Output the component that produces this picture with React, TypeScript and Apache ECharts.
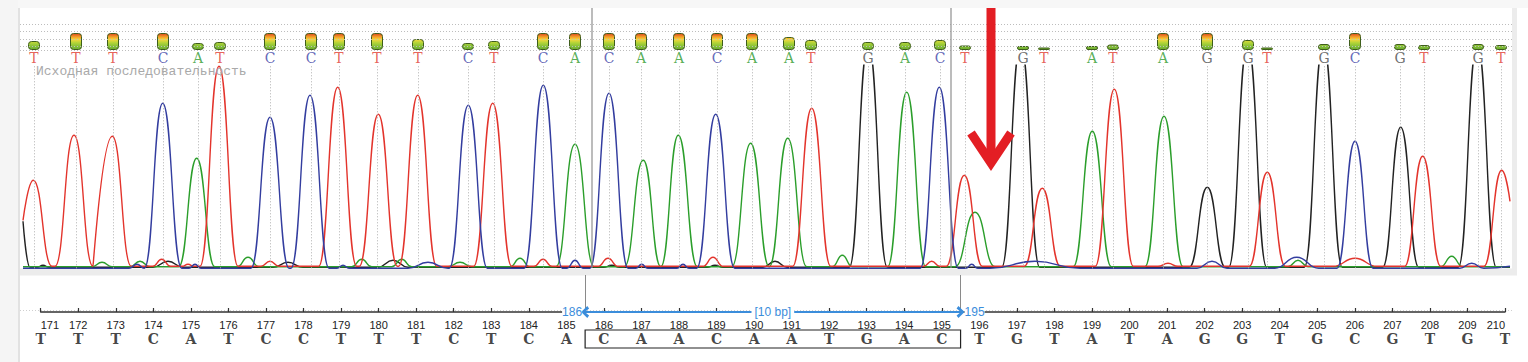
import { useEffect, useRef } from "react";
import * as echarts from "echarts";

// ---- base calls (top row) ----
const calledBases = ["T","T","T","C","A","T","C","C","T","T","T","C","T","C","A","C","A","A","C","A","A","T","G","A","C","T","G","T","A","T","A","G","G","T","G","C","G","T","G","T"];
const callPositions = [14, 56, 93, 143, 178, 200, 250, 291, 319, 357, 398, 448, 474, 523, 555, 589, 621, 659, 697, 732, 769, 791, 848, 885, 920, 945, 1003, 1024, 1072, 1093, 1143, 1187, 1228, 1247, 1304, 1335, 1380, 1404, 1458, 1481];
const callQuality = [18, 34, 34, 34, 14, 16, 34, 34, 34, 34, 22, 14, 18, 34, 34, 34, 34, 34, 34, 34, 26, 20, 16, 16, 20, 9, 8, 5, 8, 11, 34, 34, 20, 5, 12, 34, 12, 10, 12, 10];
const qualityGuides = [0, 7, 22, 37, 52];

// ---- reference sequence (ruler) ----
const rulerStart = 171;
const rulerEnd = 210;
const referenceBases = ["T","T","T","C","A","T","C","C","T","T","T","C","T","C","A","C","A","A","C","A","A","T","G","A","C","T","G","T","A","T","A","G","G","T","G","C","G","T","G","T"];
const selectionStart = 186;
const selectionEnd = 195;

// ---- trace peaks: [scan position, intensity, half width] (half width 0 = plain point) ----
const peaksT = [[3,48,0],[13.3,88,0],[32,0,0],[54,133,19],[92.3,132,19],[141.7,9,9],[168,4,6],[199,202,19],[250,7,9],[317.7,181,19],[358.3,154,19],[397.7,173,19],[472.7,165,19],[523,9,9],[588,10,10],[693,11,10],[791.7,160,19],[911.7,7,8],[944.3,93,18],[1022.3,80,18],[1094.3,179,19],[1148,5,10],[1247.3,96,18],[1335,10,22],[1402.7,112,18],[1464,0,0],[1481.7,98,0],[1490,67,0]];
const peaksC = [[3,0,0],[117,4,8],[142.7,165,19],[175,4,6],[250,151,19],[290,173,19],[323,3,6],[408,6,20],[448.3,163,19],[523.3,183,19],[555,8,8],[589,175,19],[621.7,4,6],[663,4,6],[695.7,154,19],[919.3,181,19],[951.7,4,6],[1015,7,45],[1192,7,15],[1276.7,11,22],[1335,127,18],[1451.7,5,12],[1490,2,0]];
const peaksA = [[3,0,0],[82,6,10],[120,7,10],[176.7,110,18],[228,11,11],[341.7,9,10],[381.7,9,10],[440,6,12],[500,10,10],[555,124,19],[623.3,108,19],[658.3,133,19],[730.7,125,19],[767.7,130,19],[822.3,13,10],[886.7,176,19],[955,56,20],[1072.3,137,19],[1144,152,19],[1278,8,10],[1431.7,12,11],[1490,0,0]];
const peaksG = [[3,47,0],[10,0,0],[23,3,6],[148,7,15],[268,6,15],[373,8,15],[591.7,3,8],[695,3,8],[755,7,12],[848.3,225,19],[1000.7,225,19],[1187.3,81,18],[1227.7,225,19],[1303.3,225,19],[1380.7,141,18],[1457.3,225,19],[1490,0,0]];
const channelBaseline: Record<string, number> = { C: 0, G: 1, A: 1.5, T: 2 };

const traceRegionBounds = [572, 931];
const arrowAt = 971;
const annotationText = "Исходная последовательность";

const channelColors: Record<string, string> = { A: "#2b9e2b", C: "#333d9f", G: "#222222", T: "#e3342c" };
const letterColors: Record<string, string> = { A: "#2e9a2e", C: "#3b40a6", G: "#4a4a4a", T: "#e03a2f" };
const selColor = "#3b8ddb";

function buildTrace(peaks: number[][], base: number) {
  const pts: number[][] = [];
  for (const [x, h, w] of peaks) {
    if (w > 0) {
      const lb = x - w;
      if (pts.length && pts[pts.length - 1][0] > lb && pts[pts.length - 1][1] === base) {
        const last = pts.pop()!;
        pts.push([(last[0] + lb) / 2, base]);
      } else {
        pts.push([lb, base]);
      }
      pts.push([x, h]);
      pts.push([x + w, base]);
    } else {
      pts.push([x, h === 0 ? base : h]);
    }
  }
  return pts;
}

export default function App() {
  const ref = useRef<HTMLDivElement>(null);
  useEffect(() => {
    const chart = echarts.init(ref.current!, undefined, { renderer: "svg" });
    const lineSeries = (name: string, peaks: number[][]) => ({
      type: "line",
      name,
      xAxisIndex: 0,
      yAxisIndex: 0,
      data: buildTrace(peaks, channelBaseline[name]),
      showSymbol: false,
      symbol: "none",
      smooth: 0.5,
      smoothMonotone: "x",
      clip: true,
      silent: true,
      z: 3,
      lineStyle: { color: channelColors[name], width: 1.4 },
    });
    const chevron = "path://M0,10 L10,0 L20,10 L16,13 L10,6 L4,13 Z";
    const option: any = {
      animation: false,
      backgroundColor: "#ffffff",
      grid: [
        { left: 20, right: 16, top: 65.3, bottom: 93.7 },
        { left: 20, right: 16, top: 24, bottom: 312 },
        { left: 40.7, right: 23, top: 275, bottom: 50 },
        { left: 40.7, right: 23, top: 330, bottom: 14 },
      ],
      xAxis: [
        { gridIndex: 0, type: "value", min: 0, max: 1492, show: false },
        { gridIndex: 1, type: "value", min: 0, max: 1492, show: false },
        {
          gridIndex: 2, type: "value", min: rulerStart, max: rulerEnd, interval: 1,
          axisLine: { show: true, lineStyle: { color: "#333", width: 1.5 } },
          axisTick: { show: true, inside: true, length: 4, lineStyle: { color: "#333", width: 1.2 } },
          axisLabel: { fontSize: 11, color: "#222", fontFamily: "Liberation Sans", margin: 7, alignMinLabel: "left", alignMaxLabel: "right", showMinLabel: true, showMaxLabel: true },
          splitLine: { show: false },
        },
        { gridIndex: 3, type: "value", min: rulerStart, max: rulerEnd, show: false },
      ],
      yAxis: [
        { gridIndex: 0, type: "value", min: 0, max: 203, show: false },
        { gridIndex: 1, type: "value", min: 0, max: 52, show: false },
        { gridIndex: 2, type: "value", min: 0, max: 1, show: false },
        { gridIndex: 3, type: "value", min: 0, max: 1, show: false },
      ],
      series: [
        {
          type: "scatter", xAxisIndex: 0, yAxisIndex: 0, silent: true, z: 1,
          data: callPositions.map((x) => [x, 0]), symbolSize: 0,
          markLine: {
            silent: true, symbol: "none", label: { show: false },
            lineStyle: { type: [1, 2], color: "#b0b0b0", width: 1 },
            data: callPositions.map((x) => ({ xAxis: x })),
          },
        },
        lineSeries("G", peaksG),
        lineSeries("A", peaksA),
        lineSeries("T", peaksT),
        lineSeries("C", peaksC),
        {
          type: "bar", xAxisIndex: 1, yAxisIndex: 1, silent: true, barWidth: 12,
          data: callPositions.map((x, i) => [x, callQuality[i]]),
          itemStyle: {
            borderRadius: 3, borderColor: "#3f5e1c", borderWidth: 1,
            color: {
              type: "linear", x: 0, y: 33, x2: 0, y2: 50, global: true,
              colorStops: [
                { offset: 0, color: "#d8361d" },
                { offset: 0.18, color: "#f08a24" },
                { offset: 0.38, color: "#f5d63c" },
                { offset: 0.58, color: "#b2d437" },
                { offset: 0.78, color: "#86c13a" },
                { offset: 1, color: "#69a92b" },
              ],
            },
          },
          markLine: {
            silent: true, symbol: "none", label: { show: false },
            lineStyle: { type: [1, 2], color: "#bdbdbd", width: 1 },
            data: qualityGuides.map((v) => ({ yAxis: v })),
          },
          z: 3,
        },
        {
          type: "scatter", xAxisIndex: 1, yAxisIndex: 1, silent: true, symbolSize: 1,
          itemStyle: { color: "transparent" },
          data: callPositions.map((x, i) => ({
            value: [x, 0],
            label: { color: letterColors[calledBases[i]] },
          })),
          label: {
            show: true, position: "bottom", distance: 1,
            formatter: (p: any) => calledBases[p.dataIndex],
            fontFamily: "DejaVu Serif", fontSize: 14, lineHeight: 12,
          },
          z: 4,
        },
        {
          type: "scatter", xAxisIndex: 2, yAxisIndex: 2, silent: true, symbolSize: 0,
          data: [],
          markLine: {
            silent: true, symbol: "none", label: { show: false },
            lineStyle: { type: "solid", color: "#8a8a8a", width: 1 },
            data: [{ xAxis: selectionStart - 0.5 }, { xAxis: selectionEnd + 0.5 }],
          },
        },
        {
          type: "scatter", xAxisIndex: 2, yAxisIndex: 2, silent: true, symbolSize: 0,
          data: [],
          markLine: {
            silent: true, symbol: [chevron, chevron], symbolSize: [12, 8],
            lineStyle: { type: "solid", color: selColor, width: 2 },
            label: { show: false },
            data: [[{ coord: [selectionStart - 0.5, 0] }, { coord: [selectionEnd + 0.5, 0] }]],
          },
          z: 5,
        },
        {
          type: "scatter", xAxisIndex: 3, yAxisIndex: 3, silent: true, symbolSize: 1,
          itemStyle: { color: "transparent" },
          data: referenceBases.map((b, i) => [rulerStart + i, 0.5]),
          label: {
            show: true, position: "inside",
            formatter: (p: any) => referenceBases[p.dataIndex],
            fontFamily: "DejaVu Serif", fontWeight: "bold", fontSize: 14, color: "#151515",
          },
          markArea: {
            silent: true,
            itemStyle: { color: "rgba(0,0,0,0)", borderColor: "#222", borderWidth: 1.2 },
            data: [[{ coord: [selectionStart - 0.5, 0] }, { coord: [selectionEnd + 0.5, 1] }]],
          },
        },
      ],
    };
    chart.setOption(option);
    const bx = traceRegionBounds.map((v) => chart.convertToPixel({ xAxisIndex: 0 } as any, v) as number);
    const ax = chart.convertToPixel({ xAxisIndex: 0 } as any, arrowAt) as number;
    const sL = chart.convertToPixel({ xAxisIndex: 2 } as any, selectionStart - 0.5) as number;
    const sR = chart.convertToPixel({ xAxisIndex: 2 } as any, selectionEnd + 0.5) as number;
    const sY = chart.convertToPixel({ yAxisIndex: 2 } as any, 0) as number;
    const selFont = '12px "Liberation Sans"';
    chart.setOption({
      graphic: [
        { type: "rect", z: -10, silent: true, shape: { x: 0, y: 0, width: 1528, height: 8 }, style: { fill: "#f7f7f7" } },
        { type: "rect", z: -10, silent: true, shape: { x: 0, y: 0, width: 18, height: 362 }, style: { fill: "#f5f5f5" } },
        { type: "rect", z: -9, silent: true, shape: { x: 18, y: 8, width: 2, height: 354 }, style: { fill: "#e2e2e2" } },
        { type: "rect", z: -9, silent: true, shape: { x: 20, y: 268.5, width: 1497, height: 7 }, style: { fill: "#ececec" } },
        { type: "rect", z: -9, silent: true, shape: { x: 1512, y: 8, width: 5, height: 267 }, style: { fill: "#ececec" } },
        { type: "line", z: -5, silent: true, shape: { x1: 20, y1: 310.5, x2: 1512, y2: 310.5 }, style: { stroke: "#cfcfcf", lineWidth: 1, lineDash: [1, 2] } },
        ...bx.map((x) => ({ type: "line", z: 10, silent: true, shape: { x1: x, y1: 8, x2: x, y2: 268 }, style: { stroke: "#8f8f8f", lineWidth: 1.2 } })),
        { type: "text", z: 10, silent: true, x: 36, y: 71, style: { text: annotationText, font: '13px "Liberation Mono"', lineHeight: 11, fill: "#a9a9a9", verticalAlign: "middle" } },
        { type: "text", z: 30, silent: true, x: sL - 3, y: sY, style: { text: String(selectionStart), font: selFont, fill: selColor, align: "right", verticalAlign: "middle", backgroundColor: "#fff" } },
        { type: "text", z: 30, silent: true, x: sR + 4, y: sY, style: { text: String(selectionEnd), font: selFont, fill: selColor, align: "left", verticalAlign: "middle", backgroundColor: "#fff" } },
        { type: "text", z: 30, silent: true, x: (sL + sR) / 2, y: sY, style: { text: `[${selectionEnd - selectionStart + 1} bp]`, font: selFont, fill: selColor, align: "center", verticalAlign: "middle", backgroundColor: "#fff", padding: [0, 3] } },
        { type: "line", z: 20, silent: true, shape: { x1: ax, y1: 8, x2: ax, y2: 158 }, style: { stroke: "#e31e24", lineWidth: 9 } },
        { type: "polyline", z: 20, silent: true, shape: { points: [[ax - 20, 133], [ax, 163], [ax + 20, 133]] }, style: { stroke: "#e31e24", lineWidth: 9, lineJoin: "miter", fill: null } },
      ],
    });
    return () => chart.dispose();
  }, []);
  return <div ref={ref} style={{ position: "fixed", left: 0, top: 0, width: 1528, height: 362, background: "#fff" }} />;
}
